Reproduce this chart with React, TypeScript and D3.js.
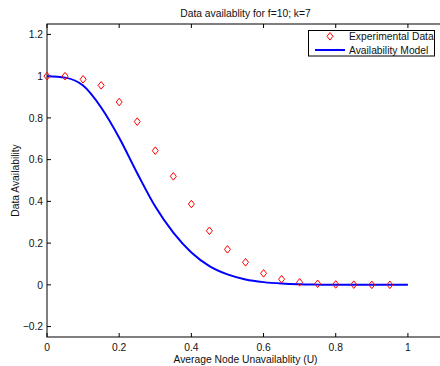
import { useEffect, useRef } from 'react'
import * as d3 from 'd3'

// experimental points (U step 0.05)
const expU = [0, 0.05, 0.1, 0.15, 0.2, 0.25, 0.3, 0.35, 0.4, 0.45, 0.5, 0.55, 0.6, 0.65, 0.7, 0.75, 0.8, 0.85, 0.9, 0.95]
const expAvail = [1.0, 1.0, 0.985, 0.956, 0.876, 0.782, 0.643, 0.52, 0.387, 0.259, 0.17, 0.108, 0.055, 0.027, 0.012, 0.005, 0.002, 0.001, 0, 0]

// model curve
const modelU = [0, 0.05, 0.1, 0.15, 0.2, 0.25, 0.3, 0.35, 0.4, 0.45, 0.5, 0.55, 0.6, 0.65, 0.7, 0.75, 0.8, 0.85, 0.9, 0.95, 1]
const modelAvail = [1.0, 0.993, 0.955, 0.85, 0.705, 0.535, 0.375, 0.25, 0.155, 0.09, 0.05, 0.026, 0.013, 0.006, 0.0025, 0.001, 0, 0, 0, 0, 0]

const xTicks = [0, 0.2, 0.4, 0.6, 0.8, 1]
const yTicks = [-0.2, 0, 0.2, 0.4, 0.6, 0.8, 1, 1.2]
const legendLabels = ['Experimental Data', 'Availability Model']

const FONT = '"Liberation Sans", Arial, Helvetica, sans-serif'

const Chart = () => {
  const ref = useRef<SVGSVGElement | null>(null)
  useEffect(() => {
    const el = ref.current
    if (!el) return
    const width = 440, height = 366
    const margin = { top: 24, right: -4, bottom: 29, left: 47 }
    const svg = d3.select(el).attr('viewBox', `0 0 ${width} ${height}`)
    const x = d3.scaleLinear().domain([0, 1.1]).range([margin.left, width - margin.right])
    const y = d3.scaleLinear().domain([-0.25, 1.25]).range([height - margin.bottom, margin.top])
    const [x0, x1] = x.range()
    const [y0, y1] = y.range()
    const tickLen = 4
    const fmt = (v: number) => (v < 0 ? '\u22120' + d3.format('.1f')(-v).slice(1) : v === 0 || v === 1 ? String(v) : d3.format('.1f')(v))

    // axes box
    svg.append('rect').attr('x', x0).attr('y', y1).attr('width', x1 - x0).attr('height', y0 - y1)
      .attr('fill', '#fff').attr('stroke', '#000').attr('stroke-width', 1)

    const g = svg.append('g').attr('font-family', FONT).attr('font-size', 10.3).attr('fill', '#111')
    xTicks.forEach((t) => {
      const px = x(t)
      g.append('line').attr('x1', px).attr('x2', px).attr('y1', y0).attr('y2', y0 - tickLen).attr('stroke', '#000')
      g.append('line').attr('x1', px).attr('x2', px).attr('y1', y1).attr('y2', y1 + tickLen).attr('stroke', '#000')
      g.append('text').attr('x', px).attr('y', y0 + 13.5).attr('text-anchor', 'middle').text(fmt(t))
    })
    yTicks.forEach((t) => {
      const py = y(t)
      g.append('line').attr('x1', x0).attr('x2', x0 + tickLen).attr('y1', py).attr('y2', py).attr('stroke', '#000')
      g.append('line').attr('x1', x1).attr('x2', x1 - tickLen).attr('y1', py).attr('y2', py).attr('stroke', '#000')
      g.append('text').attr('x', x0 - 4).attr('y', py + 3.7).attr('text-anchor', 'end').text(fmt(t))
    })

    // model line
    const modelData = modelU.map((u, i) => ({ u, v: modelAvail[i] }))
    const line = d3.line<{ u: number; v: number }>()
      .x((d) => x(d.u))
      .y((d) => y(d.v))
      .curve(d3.curveMonotoneX)
    svg.append('path').datum(modelData).attr('fill', 'none').attr('stroke', '#0000ff')
      .attr('stroke-width', 2).attr('d', line as any)

    // experimental diamonds
    const diamond = 'M0,-3.8L3,0L0,3.8L-3,0Z'
    svg.append('g').selectAll('path').data(expU.map((u, i) => ({ u, v: expAvail[i] }))).join('path')
      .attr('d', diamond)
      .attr('transform', (d: { u: number; v: number }) => `translate(${x(d.u)},${y(d.v)})`)
      .attr('fill', 'none').attr('stroke', '#ff0000').attr('stroke-width', 1)

    // legend
    const lg = svg.append('g').attr('font-family', FONT).attr('font-size', 10.3).attr('fill', '#111')
    lg.append('rect').attr('x', 308.5).attr('y', 30.5).attr('width', 126).attr('height', 25.5)
      .attr('fill', '#fff').attr('stroke', '#000').attr('stroke-width', 1)
    lg.append('path').attr('d', diamond).attr('transform', 'translate(330,36.3)')
      .attr('fill', 'none').attr('stroke', '#ff0000').attr('stroke-width', 1)
    lg.append('line').attr('x1', 315).attr('x2', 345).attr('y1', 50).attr('y2', 50)
      .attr('stroke', '#0000ff').attr('stroke-width', 2)
    lg.append('text').attr('x', 349).attr('y', 40).text(legendLabels[0])
    lg.append('text').attr('x', 349).attr('y', 54).text(legendLabels[1])

    // titles
    const cx = (x0 + x1) / 2
    svg.append('text').attr('x', cx).attr('y', 17).attr('text-anchor', 'middle')
      .attr('font-family', FONT).attr('font-size', 10.3).attr('fill', '#111')
      .text('Data availablity for f=10; k=7')
    svg.append('text').attr('x', cx).attr('y', 363).attr('text-anchor', 'middle')
      .attr('font-family', FONT).attr('font-size', 10.3).attr('fill', '#111')
      .text('Average Node Unavailablity (U)')
    svg.append('text').attr('transform', `translate(19,${(y0 + y1) / 2}) rotate(-90)`).attr('text-anchor', 'middle')
      .attr('font-family', FONT).attr('font-size', 10.3).attr('fill', '#111')
      .text('Data Availability')

    return () => { svg.selectAll('*').remove() }
  }, [])
  return <svg ref={ref} width={440} height={366} style={{ position: 'absolute', left: 0, top: 0, background: '#fff' }} />
}

export default function App() {
  return <Chart />
}
